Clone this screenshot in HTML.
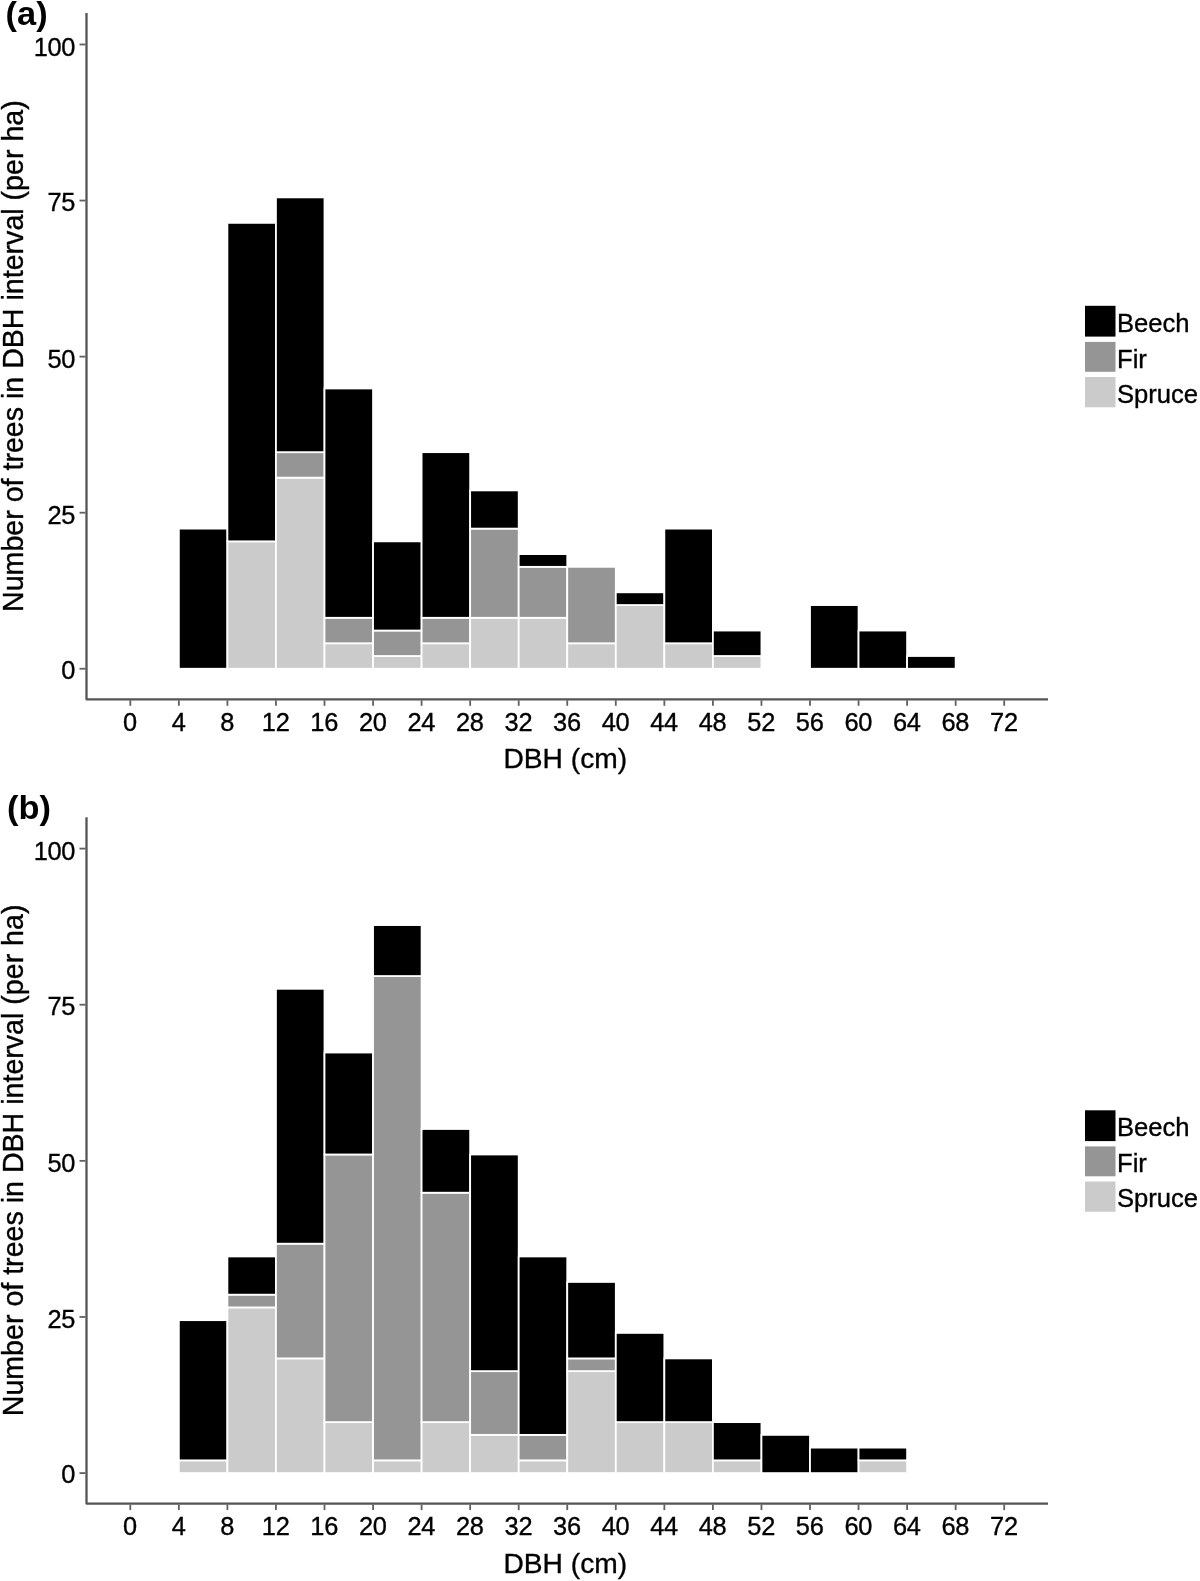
<!DOCTYPE html>
<html lang="en">
<head>
<meta charset="utf-8">
<title>DBH distribution</title>
<style>
html,body{margin:0;padding:0;background:#fff;}
body{width:1200px;height:1581px;overflow:hidden;}
svg{display:block;filter:blur(0.6px);}
</style>
</head>
<body>
<svg width="1200" height="1581" viewBox="0 0 1200 1581">
<rect width="1200" height="1581" fill="#ffffff"/>
<g stroke="#ffffff" stroke-width="1.8" shape-rendering="geometricPrecision">
<rect x="178.85" y="528.61" width="48.55" height="140.14" fill="#000000"/>
<rect x="227.4" y="541.35" width="48.55" height="127.4" fill="#cbcbcb"/>
<rect x="227.4" y="222.86" width="48.55" height="318.49" fill="#000000"/>
<rect x="275.95" y="477.65" width="48.55" height="191.1" fill="#cbcbcb"/>
<rect x="275.95" y="452.17" width="48.55" height="25.48" fill="#959595"/>
<rect x="275.95" y="197.38" width="48.55" height="254.8" fill="#000000"/>
<rect x="324.5" y="643.27" width="48.55" height="25.48" fill="#cbcbcb"/>
<rect x="324.5" y="617.79" width="48.55" height="25.48" fill="#959595"/>
<rect x="324.5" y="388.47" width="48.55" height="229.32" fill="#000000"/>
<rect x="373.05" y="656.01" width="48.55" height="12.74" fill="#cbcbcb"/>
<rect x="373.05" y="630.53" width="48.55" height="25.48" fill="#959595"/>
<rect x="373.05" y="541.35" width="48.55" height="89.18" fill="#000000"/>
<rect x="421.6" y="643.27" width="48.55" height="25.48" fill="#cbcbcb"/>
<rect x="421.6" y="617.79" width="48.55" height="25.48" fill="#959595"/>
<rect x="421.6" y="452.17" width="48.55" height="165.62" fill="#000000"/>
<rect x="470.15" y="617.79" width="48.55" height="50.96" fill="#cbcbcb"/>
<rect x="470.15" y="528.61" width="48.55" height="89.18" fill="#959595"/>
<rect x="470.15" y="490.39" width="48.55" height="38.22" fill="#000000"/>
<rect x="518.7" y="617.79" width="48.55" height="50.96" fill="#cbcbcb"/>
<rect x="518.7" y="566.83" width="48.55" height="50.96" fill="#959595"/>
<rect x="518.7" y="554.09" width="48.55" height="12.74" fill="#000000"/>
<rect x="567.25" y="643.27" width="48.55" height="25.48" fill="#cbcbcb"/>
<rect x="567.25" y="566.83" width="48.55" height="76.44" fill="#959595"/>
<rect x="615.8" y="605.05" width="48.55" height="63.7" fill="#cbcbcb"/>
<rect x="615.8" y="592.31" width="48.55" height="12.74" fill="#000000"/>
<rect x="664.35" y="643.27" width="48.55" height="25.48" fill="#cbcbcb"/>
<rect x="664.35" y="528.61" width="48.55" height="114.66" fill="#000000"/>
<rect x="712.9" y="656.01" width="48.55" height="12.74" fill="#cbcbcb"/>
<rect x="712.9" y="630.53" width="48.55" height="25.48" fill="#000000"/>
<rect x="810" y="605.05" width="48.55" height="63.7" fill="#000000"/>
<rect x="858.55" y="630.53" width="48.55" height="38.22" fill="#000000"/>
<rect x="907.1" y="656.01" width="48.55" height="12.74" fill="#000000"/>
</g>
<g stroke="#555555" stroke-width="2.3" fill="none" stroke-linejoin="round">
<path d="M86.5 13 V699.3 H1048"/>
</g>
<g stroke="#606060" stroke-width="1.8" fill="none">
<path d="M79.5 668.75 H85.5"/>
<path d="M79.5 512.69 H85.5"/>
<path d="M79.5 356.62 H85.5"/>
<path d="M79.5 200.56 H85.5"/>
<path d="M79.5 44.5 H85.5"/>
<path d="M130.3 700.3 V705.8"/>
<path d="M178.85 700.3 V705.8"/>
<path d="M227.4 700.3 V705.8"/>
<path d="M275.95 700.3 V705.8"/>
<path d="M324.5 700.3 V705.8"/>
<path d="M373.05 700.3 V705.8"/>
<path d="M421.6 700.3 V705.8"/>
<path d="M470.15 700.3 V705.8"/>
<path d="M518.7 700.3 V705.8"/>
<path d="M567.25 700.3 V705.8"/>
<path d="M615.8 700.3 V705.8"/>
<path d="M664.35 700.3 V705.8"/>
<path d="M712.9 700.3 V705.8"/>
<path d="M761.45 700.3 V705.8"/>
<path d="M810 700.3 V705.8"/>
<path d="M858.55 700.3 V705.8"/>
<path d="M907.1 700.3 V705.8"/>
<path d="M955.65 700.3 V705.8"/>
<path d="M1004.2 700.3 V705.8"/>
</g>
<g font-family='"Liberation Sans", Arial, Helvetica, sans-serif' font-size="25.4" fill="#000000" stroke="#000000" stroke-width="0.35">
<g letter-spacing="-0.3">
<text x="75.1" y="679.1" text-anchor="end">0</text>
<text x="75.1" y="523.9" text-anchor="end">25</text>
<text x="75.1" y="367.9" text-anchor="end">50</text>
<text x="75.1" y="210.75" text-anchor="end">75</text>
<text x="75.1" y="55.9" text-anchor="end">100</text>
<text x="130" y="730.9" text-anchor="middle">0</text>
<text x="178.55" y="730.9" text-anchor="middle">4</text>
<text x="227.1" y="730.9" text-anchor="middle">8</text>
<text x="275.65" y="730.9" text-anchor="middle">12</text>
<text x="324.2" y="730.9" text-anchor="middle">16</text>
<text x="372.75" y="730.9" text-anchor="middle">20</text>
<text x="421.3" y="730.9" text-anchor="middle">24</text>
<text x="469.85" y="730.9" text-anchor="middle">28</text>
<text x="518.4" y="730.9" text-anchor="middle">32</text>
<text x="566.95" y="730.9" text-anchor="middle">36</text>
<text x="615.5" y="730.9" text-anchor="middle">40</text>
<text x="664.05" y="730.9" text-anchor="middle">44</text>
<text x="712.6" y="730.9" text-anchor="middle">48</text>
<text x="761.15" y="730.9" text-anchor="middle">52</text>
<text x="809.7" y="730.9" text-anchor="middle">56</text>
<text x="858.25" y="730.9" text-anchor="middle">60</text>
<text x="906.8" y="730.9" text-anchor="middle">64</text>
<text x="955.35" y="730.9" text-anchor="middle">68</text>
<text x="1003.9" y="730.9" text-anchor="middle">72</text>
</g>
<rect x="1085" y="305.8" width="30.5" height="30.8" fill="#000000" stroke="none"/>
<text x="1117" y="331.7" font-size="25.6">Beech</text>
<rect x="1085" y="341.9" width="30.5" height="29.9" fill="#959595" stroke="none"/>
<text x="1117" y="367.8" font-size="25.6">Fir</text>
<rect x="1085" y="377" width="30.5" height="30.3" fill="#cbcbcb" stroke="none"/>
<text x="1117" y="402.9" font-size="25.6">Spruce</text>
</g>
<g font-family='"Liberation Sans", Arial, Helvetica, sans-serif' font-size="28.4" fill="#000000" stroke="#000000" stroke-width="0.35" text-anchor="middle">
<text x="565.3" y="768.3" font-size="28.2">DBH (cm)</text>
<text transform="translate(23.3 356.15) rotate(-90)" font-size="28.6">Number of trees in DBH interval (per ha)</text>
</g>
<text transform="translate(5.6 24.5) scale(1.065 1)" font-family='"Liberation Sans", Arial, Helvetica, sans-serif' font-size="32.3" font-weight="bold" fill="#000">(a)</text>
<g stroke="#ffffff" stroke-width="1.8" shape-rendering="geometricPrecision">
<rect x="178.85" y="1460.36" width="48.55" height="12.74" fill="#cbcbcb"/>
<rect x="178.85" y="1320.16" width="48.55" height="140.19" fill="#000000"/>
<rect x="227.4" y="1307.42" width="48.55" height="165.68" fill="#cbcbcb"/>
<rect x="227.4" y="1294.67" width="48.55" height="12.74" fill="#959595"/>
<rect x="227.4" y="1256.44" width="48.55" height="38.23" fill="#000000"/>
<rect x="275.95" y="1358.4" width="48.55" height="114.7" fill="#cbcbcb"/>
<rect x="275.95" y="1243.69" width="48.55" height="114.7" fill="#959595"/>
<rect x="275.95" y="988.79" width="48.55" height="254.9" fill="#000000"/>
<rect x="324.5" y="1422.12" width="48.55" height="50.98" fill="#cbcbcb"/>
<rect x="324.5" y="1154.48" width="48.55" height="267.64" fill="#959595"/>
<rect x="324.5" y="1052.52" width="48.55" height="101.96" fill="#000000"/>
<rect x="373.05" y="1460.36" width="48.55" height="12.74" fill="#cbcbcb"/>
<rect x="373.05" y="976.05" width="48.55" height="484.31" fill="#959595"/>
<rect x="373.05" y="925.07" width="48.55" height="50.98" fill="#000000"/>
<rect x="421.6" y="1422.12" width="48.55" height="50.98" fill="#cbcbcb"/>
<rect x="421.6" y="1192.71" width="48.55" height="229.41" fill="#959595"/>
<rect x="421.6" y="1128.99" width="48.55" height="63.72" fill="#000000"/>
<rect x="470.15" y="1434.87" width="48.55" height="38.23" fill="#cbcbcb"/>
<rect x="470.15" y="1371.14" width="48.55" height="63.72" fill="#959595"/>
<rect x="470.15" y="1154.48" width="48.55" height="216.66" fill="#000000"/>
<rect x="518.7" y="1460.36" width="48.55" height="12.74" fill="#cbcbcb"/>
<rect x="518.7" y="1434.87" width="48.55" height="25.49" fill="#959595"/>
<rect x="518.7" y="1256.44" width="48.55" height="178.43" fill="#000000"/>
<rect x="567.25" y="1371.14" width="48.55" height="101.96" fill="#cbcbcb"/>
<rect x="567.25" y="1358.4" width="48.55" height="12.74" fill="#959595"/>
<rect x="567.25" y="1281.93" width="48.55" height="76.47" fill="#000000"/>
<rect x="615.8" y="1422.12" width="48.55" height="50.98" fill="#cbcbcb"/>
<rect x="615.8" y="1332.91" width="48.55" height="89.21" fill="#000000"/>
<rect x="664.35" y="1422.12" width="48.55" height="50.98" fill="#cbcbcb"/>
<rect x="664.35" y="1358.4" width="48.55" height="63.72" fill="#000000"/>
<rect x="712.9" y="1460.36" width="48.55" height="12.74" fill="#cbcbcb"/>
<rect x="712.9" y="1422.12" width="48.55" height="38.23" fill="#000000"/>
<rect x="761.45" y="1434.87" width="48.55" height="38.23" fill="#000000"/>
<rect x="810" y="1447.61" width="48.55" height="25.49" fill="#000000"/>
<rect x="858.55" y="1460.36" width="48.55" height="12.74" fill="#cbcbcb"/>
<rect x="858.55" y="1447.61" width="48.55" height="12.74" fill="#000000"/>
</g>
<g stroke="#555555" stroke-width="2.3" fill="none" stroke-linejoin="round">
<path d="M86.5 817.25 V1503.6 H1048"/>
</g>
<g stroke="#606060" stroke-width="1.8" fill="none">
<path d="M79.5 1473.1 H85.5"/>
<path d="M79.5 1316.97 H85.5"/>
<path d="M79.5 1160.85 H85.5"/>
<path d="M79.5 1004.72 H85.5"/>
<path d="M79.5 848.6 H85.5"/>
<path d="M130.3 1504.6 V1510.1"/>
<path d="M178.85 1504.6 V1510.1"/>
<path d="M227.4 1504.6 V1510.1"/>
<path d="M275.95 1504.6 V1510.1"/>
<path d="M324.5 1504.6 V1510.1"/>
<path d="M373.05 1504.6 V1510.1"/>
<path d="M421.6 1504.6 V1510.1"/>
<path d="M470.15 1504.6 V1510.1"/>
<path d="M518.7 1504.6 V1510.1"/>
<path d="M567.25 1504.6 V1510.1"/>
<path d="M615.8 1504.6 V1510.1"/>
<path d="M664.35 1504.6 V1510.1"/>
<path d="M712.9 1504.6 V1510.1"/>
<path d="M761.45 1504.6 V1510.1"/>
<path d="M810 1504.6 V1510.1"/>
<path d="M858.55 1504.6 V1510.1"/>
<path d="M907.1 1504.6 V1510.1"/>
<path d="M955.65 1504.6 V1510.1"/>
<path d="M1004.2 1504.6 V1510.1"/>
</g>
<g font-family='"Liberation Sans", Arial, Helvetica, sans-serif' font-size="25.4" fill="#000000" stroke="#000000" stroke-width="0.35">
<g letter-spacing="-0.3">
<text x="75.1" y="1482.8" text-anchor="end">0</text>
<text x="75.1" y="1327.75" text-anchor="end">25</text>
<text x="75.1" y="1171.75" text-anchor="end">50</text>
<text x="75.1" y="1015.4" text-anchor="end">75</text>
<text x="75.1" y="860" text-anchor="end">100</text>
<text x="130" y="1535.2" text-anchor="middle">0</text>
<text x="178.55" y="1535.2" text-anchor="middle">4</text>
<text x="227.1" y="1535.2" text-anchor="middle">8</text>
<text x="275.65" y="1535.2" text-anchor="middle">12</text>
<text x="324.2" y="1535.2" text-anchor="middle">16</text>
<text x="372.75" y="1535.2" text-anchor="middle">20</text>
<text x="421.3" y="1535.2" text-anchor="middle">24</text>
<text x="469.85" y="1535.2" text-anchor="middle">28</text>
<text x="518.4" y="1535.2" text-anchor="middle">32</text>
<text x="566.95" y="1535.2" text-anchor="middle">36</text>
<text x="615.5" y="1535.2" text-anchor="middle">40</text>
<text x="664.05" y="1535.2" text-anchor="middle">44</text>
<text x="712.6" y="1535.2" text-anchor="middle">48</text>
<text x="761.15" y="1535.2" text-anchor="middle">52</text>
<text x="809.7" y="1535.2" text-anchor="middle">56</text>
<text x="858.25" y="1535.2" text-anchor="middle">60</text>
<text x="906.8" y="1535.2" text-anchor="middle">64</text>
<text x="955.35" y="1535.2" text-anchor="middle">68</text>
<text x="1003.9" y="1535.2" text-anchor="middle">72</text>
</g>
<rect x="1085" y="1110.3" width="30.5" height="30.8" fill="#000000" stroke="none"/>
<text x="1117" y="1136.2" font-size="25.6">Beech</text>
<rect x="1085" y="1146.4" width="30.5" height="29.9" fill="#959595" stroke="none"/>
<text x="1117" y="1172.3" font-size="25.6">Fir</text>
<rect x="1085" y="1181.5" width="30.5" height="30.3" fill="#cbcbcb" stroke="none"/>
<text x="1117" y="1207.4" font-size="25.6">Spruce</text>
</g>
<g font-family='"Liberation Sans", Arial, Helvetica, sans-serif' font-size="28.4" fill="#000000" stroke="#000000" stroke-width="0.35" text-anchor="middle">
<text x="565.3" y="1572.6" font-size="28.2">DBH (cm)</text>
<text transform="translate(23.3 1160.42) rotate(-90)" font-size="28.6">Number of trees in DBH interval (per ha)</text>
</g>
<text transform="translate(7.1 818.9) scale(1.065 1)" font-family='"Liberation Sans", Arial, Helvetica, sans-serif' font-size="32.3" font-weight="bold" fill="#000">(b)</text>
</svg>
</body>
</html>
